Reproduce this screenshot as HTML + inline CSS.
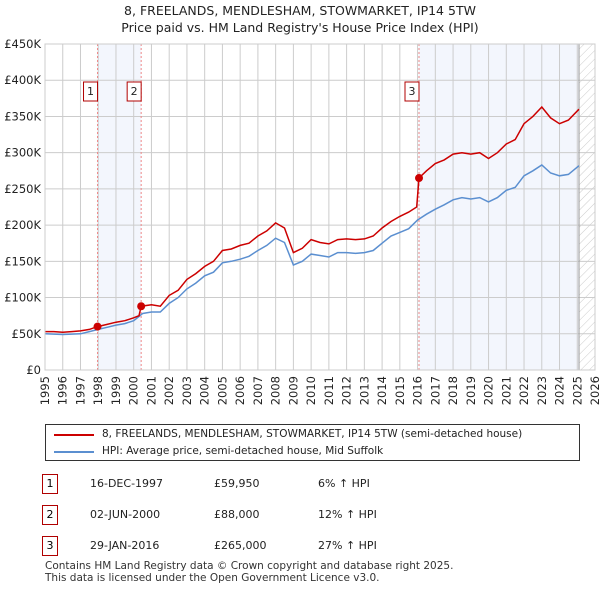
<!DOCTYPE html>
<html><head><meta charset="utf-8"><style>
body{margin:0;background:#fff;font-family:"DejaVu Sans","Liberation Sans",sans-serif;}
#wrap{position:relative;width:600px;height:590px;overflow:hidden}
.t{position:absolute;font-size:11px;color:#222;white-space:nowrap}
</style></head><body><div id="wrap">
<div class="t" style="left:0;width:600px;text-align:center;top:2px;font-size:12.5px;line-height:17px">8, FREELANDS, MENDLESHAM, STOWMARKET, IP14 5TW<br>Price paid vs. HM Land Registry's House Price Index (HPI)</div>
<svg id="c" width="600" height="420" style="position:absolute;left:0;top:0;font-family:'DejaVu Sans',sans-serif"></svg>
<div style="position:absolute;left:45px;top:424px;width:533px;height:35px;border:1px solid #333;background:#fff">
<div style="position:absolute;left:8px;top:9px;width:40px;border-top:2px solid #cc0000"></div>
<div class="t" style="left:56px;top:3px;font-size:10.5px">8, FREELANDS, MENDLESHAM, STOWMARKET, IP14 5TW (semi-detached house)</div>
<div style="position:absolute;left:8px;top:26px;width:40px;border-top:2px solid #5b8fd0"></div>
<div class="t" style="left:56px;top:20px;font-size:10.5px">HPI: Average price, semi-detached house, Mid Suffolk</div>
</div>
<div id="tbl"></div>
<div class="t" style="left:45px;top:560px;font-size:10.5px;line-height:12px;color:#333">Contains HM Land Registry data © Crown copyright and database right 2025.<br>This data is licensed under the Open Government Licence v3.0.</div>
</div>
<script>
const years=[1995,1995.5,1996,1996.5,1997,1997.5,1998,1998.5,1999,1999.5,2000,2000.5,2001,2001.5,2002,2002.5,2003,2003.5,2004,2004.5,2005,2005.5,2006,2006.5,2007,2007.5,2008,2008.5,2009,2009.5,2010,2010.5,2011,2011.5,2012,2012.5,2013,2013.5,2014,2014.5,2015,2015.5,2016,2016.5,2017,2017.5,2018,2018.5,2019,2019.5,2020,2020.5,2021,2021.5,2022,2022.5,2023,2023.5,2024,2024.5,2025.1];
const hpi=[50,49.5,49,49.5,50,53,56,59,62,64,68,78,80,80,92,100,112,120,130,135,148,150,153,157,165,172,182,176,145,150,160,158,156,162,162,161,162,165,175,185,190,195,207,215,222,228,235,238,236,238,232,238,248,252,268,275,283,272,268,270,282];
const redYears=[1995,1995.5,1996,1996.5,1997,1997.5,1997.96,1998.5,1999,1999.5,2000,2000.3,2000.42,2001,2001.5,2002,2002.5,2003,2003.5,2004,2004.5,2005,2005.5,2006,2006.5,2007,2007.5,2008,2008.5,2009,2009.5,2010,2010.5,2011,2011.5,2012,2012.5,2013,2013.5,2014,2014.5,2015,2015.5,2015.95,2016.08,2016.5,2017,2017.5,2018,2018.5,2019,2019.5,2020,2020.5,2021,2021.5,2022,2022.5,2023,2023.5,2024,2024.5,2025.1];
const red=[53,53,52,53,54,56,59.95,63,66,68,72,75,88,90,88,103,110,125,133,143,150,165,167,172,175,185,192,203,196,162,168,180,176,174,180,181,180,181,185,196,205,212,218,225,265,275,285,290,298,300,298,300,292,300,312,318,340,350,363,348,340,345,360];
const sales=[{n:"1",y:1997.96,v:59.95,d:"16-DEC-1997",p:"£59,950",h:"6% ↑ HPI"},{n:"2",y:2000.42,v:88,d:"02-JUN-2000",p:"£88,000",h:"12% ↑ HPI"},{n:"3",y:2016.08,v:265,d:"29-JAN-2016",p:"£265,000",h:"27% ↑ HPI"}];
const yTicks=[0,50,100,150,200,250,300,350,400,450];
const x0=45,x1=595,y0=370,y1=44;
const X=y=>x0+(y-1995)/(2026-1995)*(x1-x0);
const Y=v=>y0-v/450*(y0-y1);
const svg=document.getElementById('c');const NS='http://www.w3.org/2000/svg';
function mk(t,a,p){const e=document.createElementNS(NS,t);for(const k in a)e.setAttribute(k,a[k]);(p||svg).appendChild(e);return e;}
const dEnd=2025.1;
let r=mk('rect',{x:X(1997.96),y:y1,width:X(2000.42)-X(1997.96),height:y0-y1,fill:'#f3f6fd'});

r=mk('rect',{x:X(2016.08),y:y1,width:X(dEnd)-X(2016.08),height:y0-y1,fill:'#f3f6fd'});

const defs=mk('defs',{});const pat=mk('pattern',{id:'h',width:6,height:6,patternUnits:'userSpaceOnUse',patternTransform:'rotate(45)'},defs);
mk('line',{x1:0,y1:0,x2:0,y2:6,stroke:'#ccc','stroke-width':1},pat);
r=mk('rect',{x:X(dEnd),y:y1,width:x1-X(dEnd),height:y0-y1,fill:'url(#h)'});

for(const v of yTicks){let l=mk('line',{x1:x0,x2:x1,y1:Y(v),y2:Y(v),stroke:'#ccc'});
let t=mk('text',{x:x0-4,y:Y(v)+4,'text-anchor':'end','font-size':11.5,fill:'#222'});t.textContent=v==0?'£0':'£'+v+'K';}
for(let yr=1995;yr<=2026;yr++){let l=mk('line',{x1:X(yr),x2:X(yr),y1:y1,y2:y0,stroke:'#ccc'});
let t=mk('text',{x:0,y:0,'text-anchor':'end','font-size':11.5,fill:'#222',transform:`translate(${X(yr)+4},${y0+6}) rotate(-90)`});t.textContent=yr;}
let vl=mk('line',{x1:X(dEnd),x2:X(dEnd),y1:y1,y2:y0,stroke:'#999'});
for(const s of sales){let l=mk('line',{x1:X(s.y),x2:X(s.y),y1:y1,y2:y0,stroke:'#e88','stroke-dasharray':'2,2'});}
const pts=(xs,vs)=>xs.map((x,i)=>X(x).toFixed(1)+','+Y(vs[i]).toFixed(1)).join(' ');
let pl=mk('polyline',{points:pts(years,hpi),fill:'none',stroke:'#5b8fd0','stroke-width':1.5});
pl=mk('polyline',{points:pts(redYears,red),fill:'none',stroke:'#cc0000','stroke-width':1.5});
for(const s of sales){let c=mk('circle',{cx:X(s.y),cy:Y(s.v),r:4,fill:'#cc0000'});
let b=mk('rect',{x:X(s.y)-14,y:82,width:14,height:19,fill:'#fff',stroke:'#b00000'});
let t=mk('text',{x:X(s.y)-7,y:95,'text-anchor':'middle','font-size':11,fill:'#222'});t.textContent=s.n;}
let ax=mk('rect',{x:x0,y:y1,width:x1-x0,height:y0-y1,fill:'none',stroke:'#ccc'});
const tbl=document.getElementById('tbl');const rowsY=[474,505,536];
sales.forEach((s,i)=>{const row=document.createElement('div');


row.style.cssText=`position:absolute;left:0;top:${rowsY[i]}px;width:600px;height:20px`;
row.innerHTML=`<div style="position:absolute;left:42px;top:0;width:14px;height:18px;border:1px solid #b00000;font-size:11px;text-align:center;line-height:18px">${s.n}</div><div class="t" style="left:90px;top:3px">${s.d}</div><div class="t" style="left:214px;top:3px">${s.p}</div><div class="t" style="left:318px;top:3px">${s.h}</div>`;
tbl.appendChild(row);});
</script></body></html>
